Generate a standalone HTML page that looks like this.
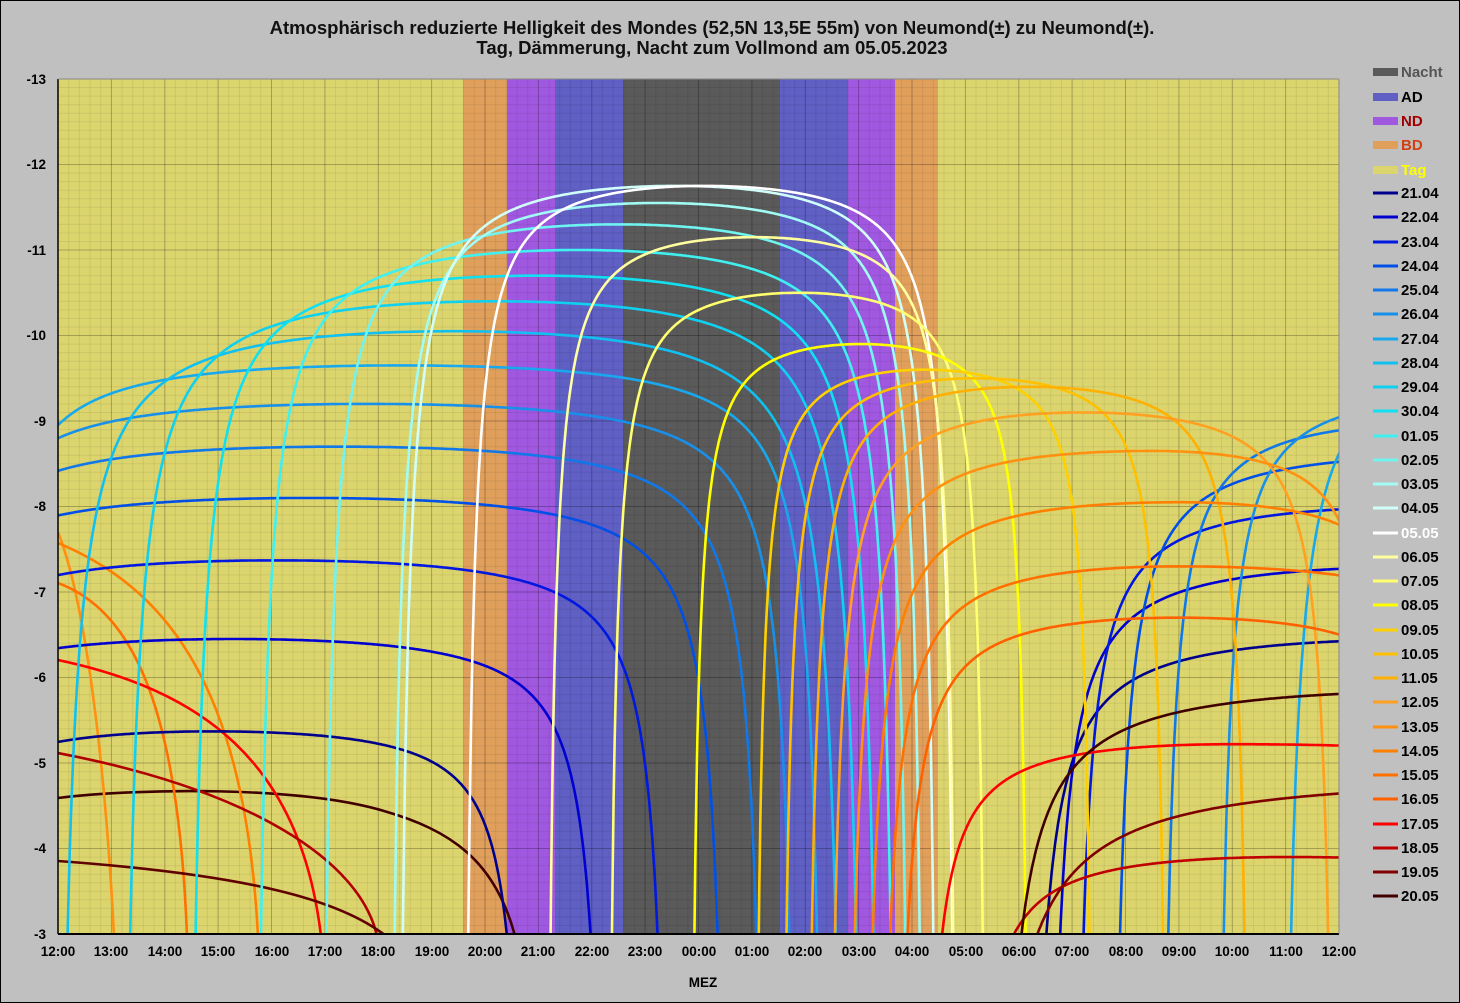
<!DOCTYPE html>
<html><head><meta charset="utf-8"><style>
html,body{margin:0;padding:0;background:#c0c0c0;}
svg{display:block;font-family:"Liberation Sans",Arial,sans-serif;}
</style></head><body>
<svg id="s" width="1460" height="1003" viewBox="0 0 1460 1003" xmlns="http://www.w3.org/2000/svg">
<rect x="0.5" y="0.5" width="1459" height="1002" fill="#c0c0c0" stroke="#000" stroke-width="1"/>
<text x="712" y="34" text-anchor="middle" font-size="18.5" font-weight="bold" fill="#111">Atmosphärisch reduzierte Helligkeit des Mondes (52,5N 13,5E  55m) von Neumond(±) zu Neumond(±).</text>
<text x="712" y="54" text-anchor="middle" font-size="18.5" font-weight="bold" fill="#111">Tag, Dämmerung, Nacht zum Vollmond am 05.05.2023</text>
<defs><clipPath id="pc"><rect x="58" y="79" width="1281" height="855"/></clipPath></defs>
<rect x="58" y="79" width="1281" height="855" fill="#dcd56e"/>
<g>
<rect x="463" y="79" width="44" height="855" fill="#e0a05c"/>
<rect x="507" y="79" width="48" height="855" fill="#a058e0"/>
<rect x="555" y="79" width="68" height="855" fill="#5f5fc4"/>
<rect x="623" y="79" width="157" height="855" fill="#5a5a5a"/>
<rect x="780" y="79" width="68" height="855" fill="#5f5fc4"/>
<rect x="848" y="79" width="47" height="855" fill="#a058e0"/>
<rect x="895" y="79" width="43" height="855" fill="#e0a05c"/>
</g>
<g id="grid" stroke-width="1"></g>
<g id="curves" clip-path="url(#pc)" fill="none" stroke-width="2.6" stroke-linejoin="round">
<path d="M58,798 C140,788 300,786 384,811 C450,830 495,860 515,936" stroke="#400000"/>
<path d="M58,532 C85,600 105,760 114,936" stroke="#ff9010"/>
<path d="M58,543 C170,590 245,690 258,936" stroke="#ff8000"/>
<path d="M58,583 C130,610 178,700 187,936" stroke="#ff7000"/>
<path d="M58,660 C200,690 300,760 321,936" stroke="#ff0000"/>
<path d="M58,753 C250,790 360,860 377,936" stroke="#b00000"/>
<path d="M58,861 C250,875 340,900 386,936" stroke="#600000"/>
</g>
<line x1="58" y1="79" x2="58" y2="934" stroke="#000" stroke-width="1.5"/>
<line x1="58" y1="934" x2="1339" y2="934" stroke="#000" stroke-width="2"/>
<line x1="1339" y1="79" x2="1339" y2="934" stroke="#888" stroke-width="1"/>
<line x1="58" y1="79" x2="1339" y2="79" stroke="#888" stroke-width="1"/>
<g font-size="13.5" font-weight="bold" fill="#000" text-anchor="end">
<text x="46" y="84">-13</text><text x="46" y="169">-12</text><text x="46" y="255">-11</text><text x="46" y="340">-10</text><text x="46" y="426">-9</text><text x="46" y="511">-8</text><text x="46" y="597">-7</text><text x="46" y="682">-6</text><text x="46" y="768">-5</text><text x="46" y="853">-4</text><text x="46" y="939">-3</text>
</g>
<g font-size="13.5" font-weight="bold" fill="#000" text-anchor="middle">
<text x="58" y="956">12:00</text><text x="111" y="956">13:00</text><text x="165" y="956">14:00</text><text x="218" y="956">15:00</text><text x="272" y="956">16:00</text><text x="325" y="956">17:00</text><text x="378" y="956">18:00</text><text x="432" y="956">19:00</text><text x="485" y="956">20:00</text><text x="538" y="956">21:00</text><text x="592" y="956">22:00</text><text x="645" y="956">23:00</text><text x="699" y="956">00:00</text><text x="752" y="956">01:00</text><text x="805" y="956">02:00</text><text x="859" y="956">03:00</text><text x="912" y="956">04:00</text><text x="966" y="956">05:00</text><text x="1019" y="956">06:00</text><text x="1072" y="956">07:00</text><text x="1126" y="956">08:00</text><text x="1179" y="956">09:00</text><text x="1232" y="956">10:00</text><text x="1286" y="956">11:00</text><text x="1339" y="956">12:00</text>
<text x="703" y="987">MEZ</text>
</g>
<g font-size="15" font-weight="bold">
<rect x="1373" y="68" width="25" height="8" fill="#5a5a5a"/><text x="1401" y="77" fill="#555">Nacht</text>
<rect x="1373" y="93" width="25" height="8" fill="#5f5fc4"/><text x="1401" y="102" fill="#000">AD</text>
<rect x="1373" y="117" width="25" height="8" fill="#a058e0"/><text x="1401" y="126" fill="#a00000">ND</text>
<rect x="1373" y="141" width="25" height="8" fill="#e0a05c"/><text x="1401" y="150" fill="#d04010">BD</text>
<rect x="1373" y="166" width="25" height="8" fill="#dcd56e"/><text x="1401" y="175" fill="#ffff00">Tag</text>
<line x1="1373" y1="193" x2="1398" y2="193" stroke="#00008c" stroke-width="3"/><text x="1401" y="198" fill="#000">21.04</text>
<line x1="1373" y1="217" x2="1398" y2="217" stroke="#0000d0" stroke-width="3"/><text x="1401" y="222" fill="#000">22.04</text>
<line x1="1373" y1="242" x2="1398" y2="242" stroke="#0018e0" stroke-width="3"/><text x="1401" y="247" fill="#000">23.04</text>
<line x1="1373" y1="266" x2="1398" y2="266" stroke="#0050e8" stroke-width="3"/><text x="1401" y="271" fill="#000">24.04</text>
<line x1="1373" y1="290" x2="1398" y2="290" stroke="#1078e8" stroke-width="3"/><text x="1401" y="295" fill="#000">25.04</text>
<line x1="1373" y1="314" x2="1398" y2="314" stroke="#1890ea" stroke-width="3"/><text x="1401" y="319" fill="#000">26.04</text>
<line x1="1373" y1="339" x2="1398" y2="339" stroke="#18a8ee" stroke-width="3"/><text x="1401" y="344" fill="#000">27.04</text>
<line x1="1373" y1="363" x2="1398" y2="363" stroke="#10c0f0" stroke-width="3"/><text x="1401" y="368" fill="#000">28.04</text>
<line x1="1373" y1="387" x2="1398" y2="387" stroke="#10d0f0" stroke-width="3"/><text x="1401" y="392" fill="#000">29.04</text>
<line x1="1373" y1="411" x2="1398" y2="411" stroke="#10e0f0" stroke-width="3"/><text x="1401" y="416" fill="#000">30.04</text>
<line x1="1373" y1="436" x2="1398" y2="436" stroke="#40f0f0" stroke-width="3"/><text x="1401" y="441" fill="#000">01.05</text>
<line x1="1373" y1="460" x2="1398" y2="460" stroke="#70f4f0" stroke-width="3"/><text x="1401" y="465" fill="#000">02.05</text>
<line x1="1373" y1="484" x2="1398" y2="484" stroke="#a0fcf4" stroke-width="3"/><text x="1401" y="489" fill="#000">03.05</text>
<line x1="1373" y1="508" x2="1398" y2="508" stroke="#d0fffa" stroke-width="3"/><text x="1401" y="513" fill="#000">04.05</text>
<line x1="1373" y1="533" x2="1398" y2="533" stroke="#ffffff" stroke-width="3"/><text x="1401" y="538" fill="#fff">05.05</text>
<line x1="1373" y1="557" x2="1398" y2="557" stroke="#ffffa0" stroke-width="3"/><text x="1401" y="562" fill="#000">06.05</text>
<line x1="1373" y1="581" x2="1398" y2="581" stroke="#ffff70" stroke-width="3"/><text x="1401" y="586" fill="#000">07.05</text>
<line x1="1373" y1="605" x2="1398" y2="605" stroke="#ffff00" stroke-width="3"/><text x="1401" y="610" fill="#000">08.05</text>
<line x1="1373" y1="630" x2="1398" y2="630" stroke="#ffd000" stroke-width="3"/><text x="1401" y="635" fill="#000">09.05</text>
<line x1="1373" y1="654" x2="1398" y2="654" stroke="#ffc000" stroke-width="3"/><text x="1401" y="659" fill="#000">10.05</text>
<line x1="1373" y1="678" x2="1398" y2="678" stroke="#ffb000" stroke-width="3"/><text x="1401" y="683" fill="#000">11.05</text>
<line x1="1373" y1="702" x2="1398" y2="702" stroke="#ffa020" stroke-width="3"/><text x="1401" y="707" fill="#000">12.05</text>
<line x1="1373" y1="727" x2="1398" y2="727" stroke="#ff9010" stroke-width="3"/><text x="1401" y="732" fill="#000">13.05</text>
<line x1="1373" y1="751" x2="1398" y2="751" stroke="#ff8000" stroke-width="3"/><text x="1401" y="756" fill="#000">14.05</text>
<line x1="1373" y1="775" x2="1398" y2="775" stroke="#ff7000" stroke-width="3"/><text x="1401" y="780" fill="#000">15.05</text>
<line x1="1373" y1="799" x2="1398" y2="799" stroke="#ff6000" stroke-width="3"/><text x="1401" y="804" fill="#000">16.05</text>
<line x1="1373" y1="824" x2="1398" y2="824" stroke="#ff0000" stroke-width="3"/><text x="1401" y="829" fill="#000">17.05</text>
<line x1="1373" y1="848" x2="1398" y2="848" stroke="#c00000" stroke-width="3"/><text x="1401" y="853" fill="#000">18.05</text>
<line x1="1373" y1="872" x2="1398" y2="872" stroke="#800000" stroke-width="3"/><text x="1401" y="877" fill="#000">19.05</text>
<line x1="1373" y1="896" x2="1398" y2="896" stroke="#400000" stroke-width="3"/><text x="1401" y="901" fill="#000">20.05</text>
</g>
</svg>
<script>
(function(){
var NS="http://www.w3.org/2000/svg";
function mk(tag,attrs,parent){var e=document.createElementNS(NS,tag);for(var k in attrs){e.setAttribute(k,attrs[k]);}parent.appendChild(e);return e;}
function X(t){return 58+t*53.375;}
function Y(m){return 79+(13+m)*85.5;}
var g=document.getElementById('grid');
var i,j;
for(i=0;i<=120;i++){var x=(58+i*1281/120).toFixed(1);var maj=(i%5==0);mk('line',{x1:x,y1:79,x2:x,y2:934,stroke:maj?'rgba(0,0,0,0.26)':'rgba(0,0,0,0.07)'},g);}
for(j=0;j<=100;j++){var y=(79+j*8.55).toFixed(1);var maj2=(j%10==0);mk('line',{x1:58,y1:y,x2:1339,y2:y,stroke:maj2?'rgba(0,0,0,0.26)':'rgba(0,0,0,0.07)'},g);}
var C=['#00008c','#0000d0','#0018e0','#0050e8','#1078e8','#1890ea','#18a8ee','#10c0f0','#10d0f0','#10e0f0','#40f0f0','#70f4f0','#a0fcf4','#d0fffa','#ffffff','#ffffa0','#ffff70','#ffff00','#ffd000','#ffc000','#ffb000','#ffa020','#ff9010','#ff8000','#ff7000','#ff6000','#ff0000','#c00000','#800000','#400000'];
var A=[
[0,-3.0,2.9,8.85,-5.37,.25],[1,-3.8,3.3,10.35,-6.45,.25],[2,-3.3,4.1,11.55,-7.37,.25],[3,-3.3,4.7,12.65,-8.1,.25],[4,-2.85,5.25,13.35,-8.7,.25],[5,-2.35,5.8,13.95,-9.2,.25],[6,-1.6,6.4,14.45,-9.65,.25],
[7,-0.1,7.4,14.85,-10.05,.35],[8,1.1,8.2,15.2,-10.4,.35],[9,2.35,9.0,15.5,-10.7,.35],[10,3.6,9.75,15.8,-11.0,.35],[11,4.85,10.5,16.05,-11.3,.35],[12,6.15,11.25,16.3,-11.55,.35],[13,6.3,11.6,16.55,-11.75,.35],[14,7.55,12.1,16.9,-11.75,.35],
[0,18.1,26,34,-6.45,.25],[1,18.45,26,34,-7.3,.25],[2,18.95,26,34,-8.0,.25],[3,19.65,27,35,-8.6,.25],[4,20.6,27,35,-9.0,.25],[5,21.65,28,35,-9.3,.25],[6,22.85,32,40,-9.9,.25],
[15,9.1,13.05,16.9,-11.15,.35],[16,10.25,13.9,17.45,-10.5,.35],[17,11.8,15.05,18.25,-9.9,.35],[18,13.0,16.25,19.45,-9.6,.35],[19,13.5,17.2,20.85,-9.5,.35],[20,13.95,18.2,22.4,-9.4,.35],[21,14.35,19.2,24.0,-9.1,.35],[22,14.7,20.5,24.9,-8.65,.3],[23,15.0,21,26,-8.05,.3],[24,15.3,21,28,-7.3,.3],[25,15.6,21,26.5,-6.7,.3],[26,16.1,22,32,-5.22,.25],[27,16.9,23,32,-3.9,.25],[28,17.1,30,40,-4.75,.25],[29,17.45,27,36,-5.85,.25]];
A.sort(function(a,b){return a[0]-b[0];});
var cg=document.getElementById('curves');
for(i=0;i<A.length;i++){
 var a=A[i],tr=a[1],tp=a[2],ts=a[3],P=a[4],c=a[5],pts=[];
 var t0=Math.max(tr,-0.2),t1=Math.min(ts,24.2);
 var n=Math.ceil((t1-t0)/0.02);
 for(j=0;j<=n;j++){
  var t=t0+(t1-t0)*j/n;
  var u=t<tp?(t-tr)/(2*(tp-tr)):0.5+(t-tp)/(2*(ts-tp));
  var sn=0.8*Math.sin(Math.PI*u);
  var yy;
  if(sn<=0.01){yy=1000;}else{var m=P+c*(1/sn-1.25);yy=Math.min(1000,Y(m));}
  pts.push(X(t).toFixed(1)+','+yy.toFixed(1));
 }
 mk('polyline',{points:pts.join(' '),stroke:C[a[0]]},cg);
}
})();
</script>
</body></html>
